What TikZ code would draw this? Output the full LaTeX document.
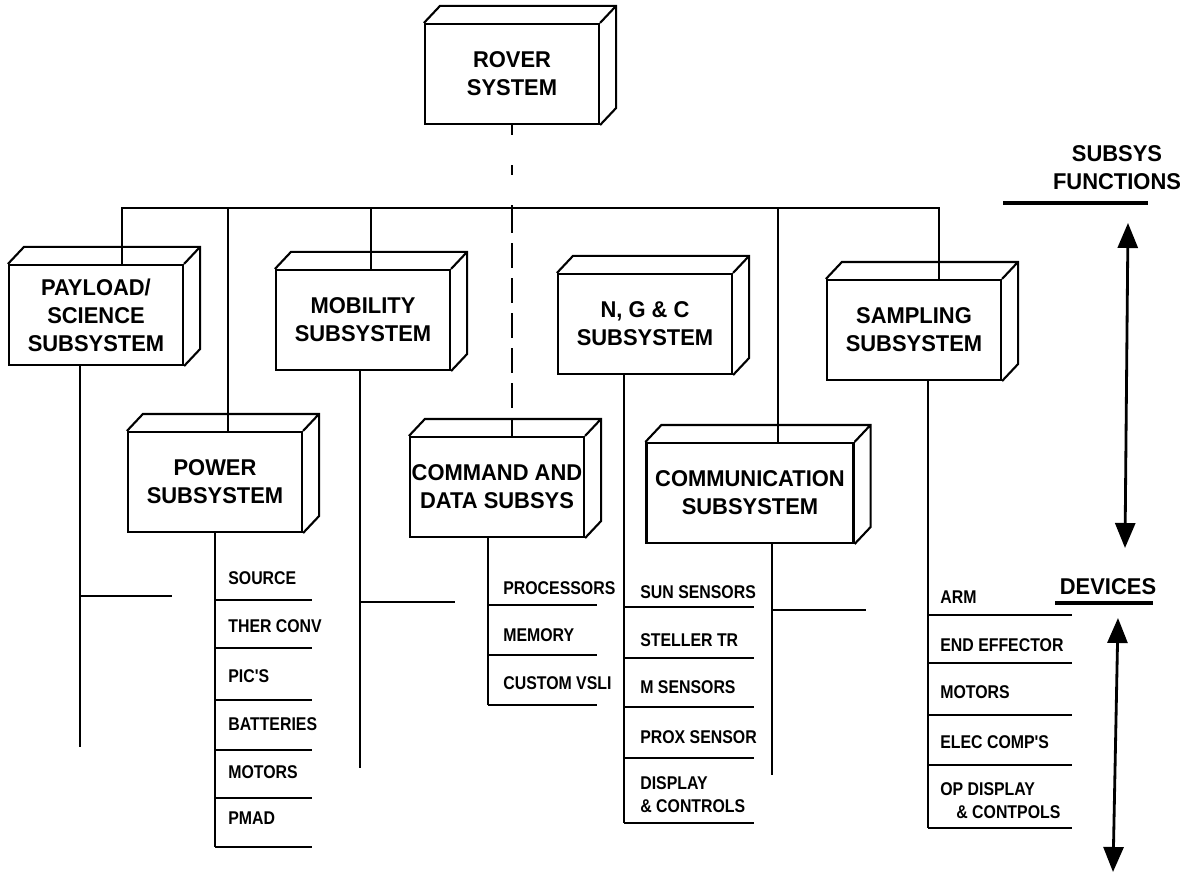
\documentclass[tikz,border=0pt]{standalone}
\usepackage{fontspec}
\newfontfamily\boxfont{Liberation Sans}[FakeStretch=0.96]
\newfontfamily\listfont{Liberation Sans}[FakeStretch=0.86]
\usetikzlibrary{arrows.meta}

\tikzset{
    wire/.style={line width=1.2pt},
    subsys/.style={draw, line width=1.2pt, minimum width=34.8mm, minimum height=20mm,
        inner sep=0pt, align=center, font=\boxfont\bfseries\fontsize{13}{16}\selectfont},
    item/.style={anchor=west, inner sep=0pt, align=left,
        font=\listfont\bfseries\fontsize{10.5}{13}\selectfont},
    heading/.style={align=center, inner sep=0pt, font=\boxfont\bfseries\fontsize{13}{16}\selectfont},
    dblarrow/.style={line width=1.6pt, {Triangle[length=5mm,width=4mm]}-{Triangle[length=5mm,width=4mm]}},
}

\begin{document}
\begin{tikzpicture}[x=0.2mm, y=-0.2mm]
    \useasboundingbox (0,0) rectangle (1189,873);

    \node[subsys] (rover) at (512,74) {ROVER\\SYSTEM};
    \node[subsys] (payload) at (96,315) {PAYLOAD/\\SCIENCE\\SUBSYSTEM};
    \node[subsys] (mobility) at (363,320) {MOBILITY\\SUBSYSTEM};
    \node[subsys] (ngc) at (645,324) {N, G \& C\\SUBSYSTEM};
    \node[subsys] (sampling) at (914,330) {SAMPLING\\SUBSYSTEM};
    \node[subsys] (power) at (215,482) {POWER\\SUBSYSTEM};
    \node[subsys] (command) at (497,487) {COMMAND AND\\DATA SUBSYS};
    \node[subsys, minimum width=41.4mm] (comm) at (750,493) {COMMUNICATION\\SUBSYSTEM};

    \foreach \n in {rover,payload,mobility,ngc,sampling,power,command,comm}
        \draw[wire] (\n.north west) -- ++(16,-17) -- ([shift={(16,-17)}]\n.north east)
            -- ([shift={(16,-17)}]\n.south east) -- (\n.south east)
            (\n.north east) -- ++(16,-17);

    \coordinate (tapPay) at (122,208);
    \coordinate (tapPow) at (228,208);
    \coordinate (tapMob) at (371,208);
    \coordinate (tapCom) at (778,208);
    \coordinate (tapSam) at (939,208);
    \coordinate (tapCmd) at (rover.south |- tapPay);
    \draw[wire] (payload.north -| tapPay) -- (tapPay) -- (tapSam) -- (tapSam |- sampling.north);
    \foreach \t/\n in {tapPow/power, tapMob/mobility, tapCom/comm}
        \draw[wire] (\t) -- (\t |- \n.north);
    \draw[wire, dash pattern=on 2mm off 6mm] (rover.south) -- (tapCmd);
    \draw[wire, dash pattern=on 5mm off 2mm] (tapCmd) -- (tapCmd |- command.north);

    \coordinate (payEnd) at (80,747);
    \coordinate (payStub) at (172,596);
    \draw[wire] (payload.south -| payEnd) -- (payEnd) (payStub -| payEnd) -- (payStub);
    \coordinate (mobEnd) at (360,768);
    \coordinate (mobStub) at (455,602);
    \draw[wire] (mobility.south -| mobEnd) -- (mobEnd) (mobStub -| mobEnd) -- (mobStub);
    \coordinate (comEnd) at (772,775);
    \coordinate (comStub) at (866,610);
    \draw[wire] (comm.south -| comEnd) -- (comEnd) (comStub -| comEnd) -- (comStub);

    \coordinate (powEnd) at (215,847);
    \draw[wire] (power.south -| powEnd) -- (powEnd);
    \foreach \t/\y/\s [count=\i] in {SOURCE/578/600, THER CONV/626/648, PIC'S/676/700,
            BATTERIES/724/750, MOTORS/772/798, PMAD/818/847} {
        \node[item] (pow\i) at (228,\y) {\t};
        \draw[wire] (215,\s) -- (312,\s);
    }

    \coordinate (cmdEnd) at (488,705);
    \draw[wire] (command.south -| cmdEnd) -- (cmdEnd);
    \foreach \t/\y/\s [count=\i] in {PROCESSORS/588/605, MEMORY/635/655, CUSTOM VSLI/683/705} {
        \node[item] (cmd\i) at (503,\y) {\t};
        \draw[wire] (488,\s) -- (597,\s);
    }

    \coordinate (ngcEnd) at (624,823);
    \draw[wire] (ngc.south -| ngcEnd) -- (ngcEnd);
    \foreach \t/\y/\s [count=\i] in {SUN SENSORS/592/607, STELLER TR/640/658, M SENSORS/687/707,
            PROX SENSOR/737/758, {DISPLAY\\\& CONTROLS}/795/823} {
        \node[item] (ngc\i) at (640,\y) {\t};
        \draw[wire] (624,\s) -- (754,\s);
    }

    \coordinate (samEnd) at (928,828);
    \draw[wire] (sampling.south -| samEnd) -- (samEnd);
    \foreach \t/\y/\s [count=\i] in {ARM/597/615, END EFFECTOR/645/663, MOTORS/692/715,
            ELEC COMP'S/742/765, {OP DISPLAY\\\hspace*{3.2mm}\& CONTPOLS}/801/828} {
        \node[item] (sam\i) at (940,\y) {\t};
        \draw[wire] (928,\s) -- (1072,\s);
    }

    \node[heading] (funcs) at (1117,168) {SUBSYS\\FUNCTIONS};
    \draw[line width=2pt] (1003,203) -- (1148,203);
    \node[heading] (devices) at (1108,587) {DEVICES};
    \draw[line width=2pt] (1055,603) -- (1153,603);

    \coordinate (upTop) at (1128,223);
    \coordinate (upBot) at (1125,548);
    \coordinate (loTop) at (1118,618);
    \coordinate (loBot) at (1113,872);
    \draw[dblarrow] (upTop) -- (upBot);
    \draw[dblarrow] (loTop) -- (loBot);
\end{tikzpicture}
\end{document}
